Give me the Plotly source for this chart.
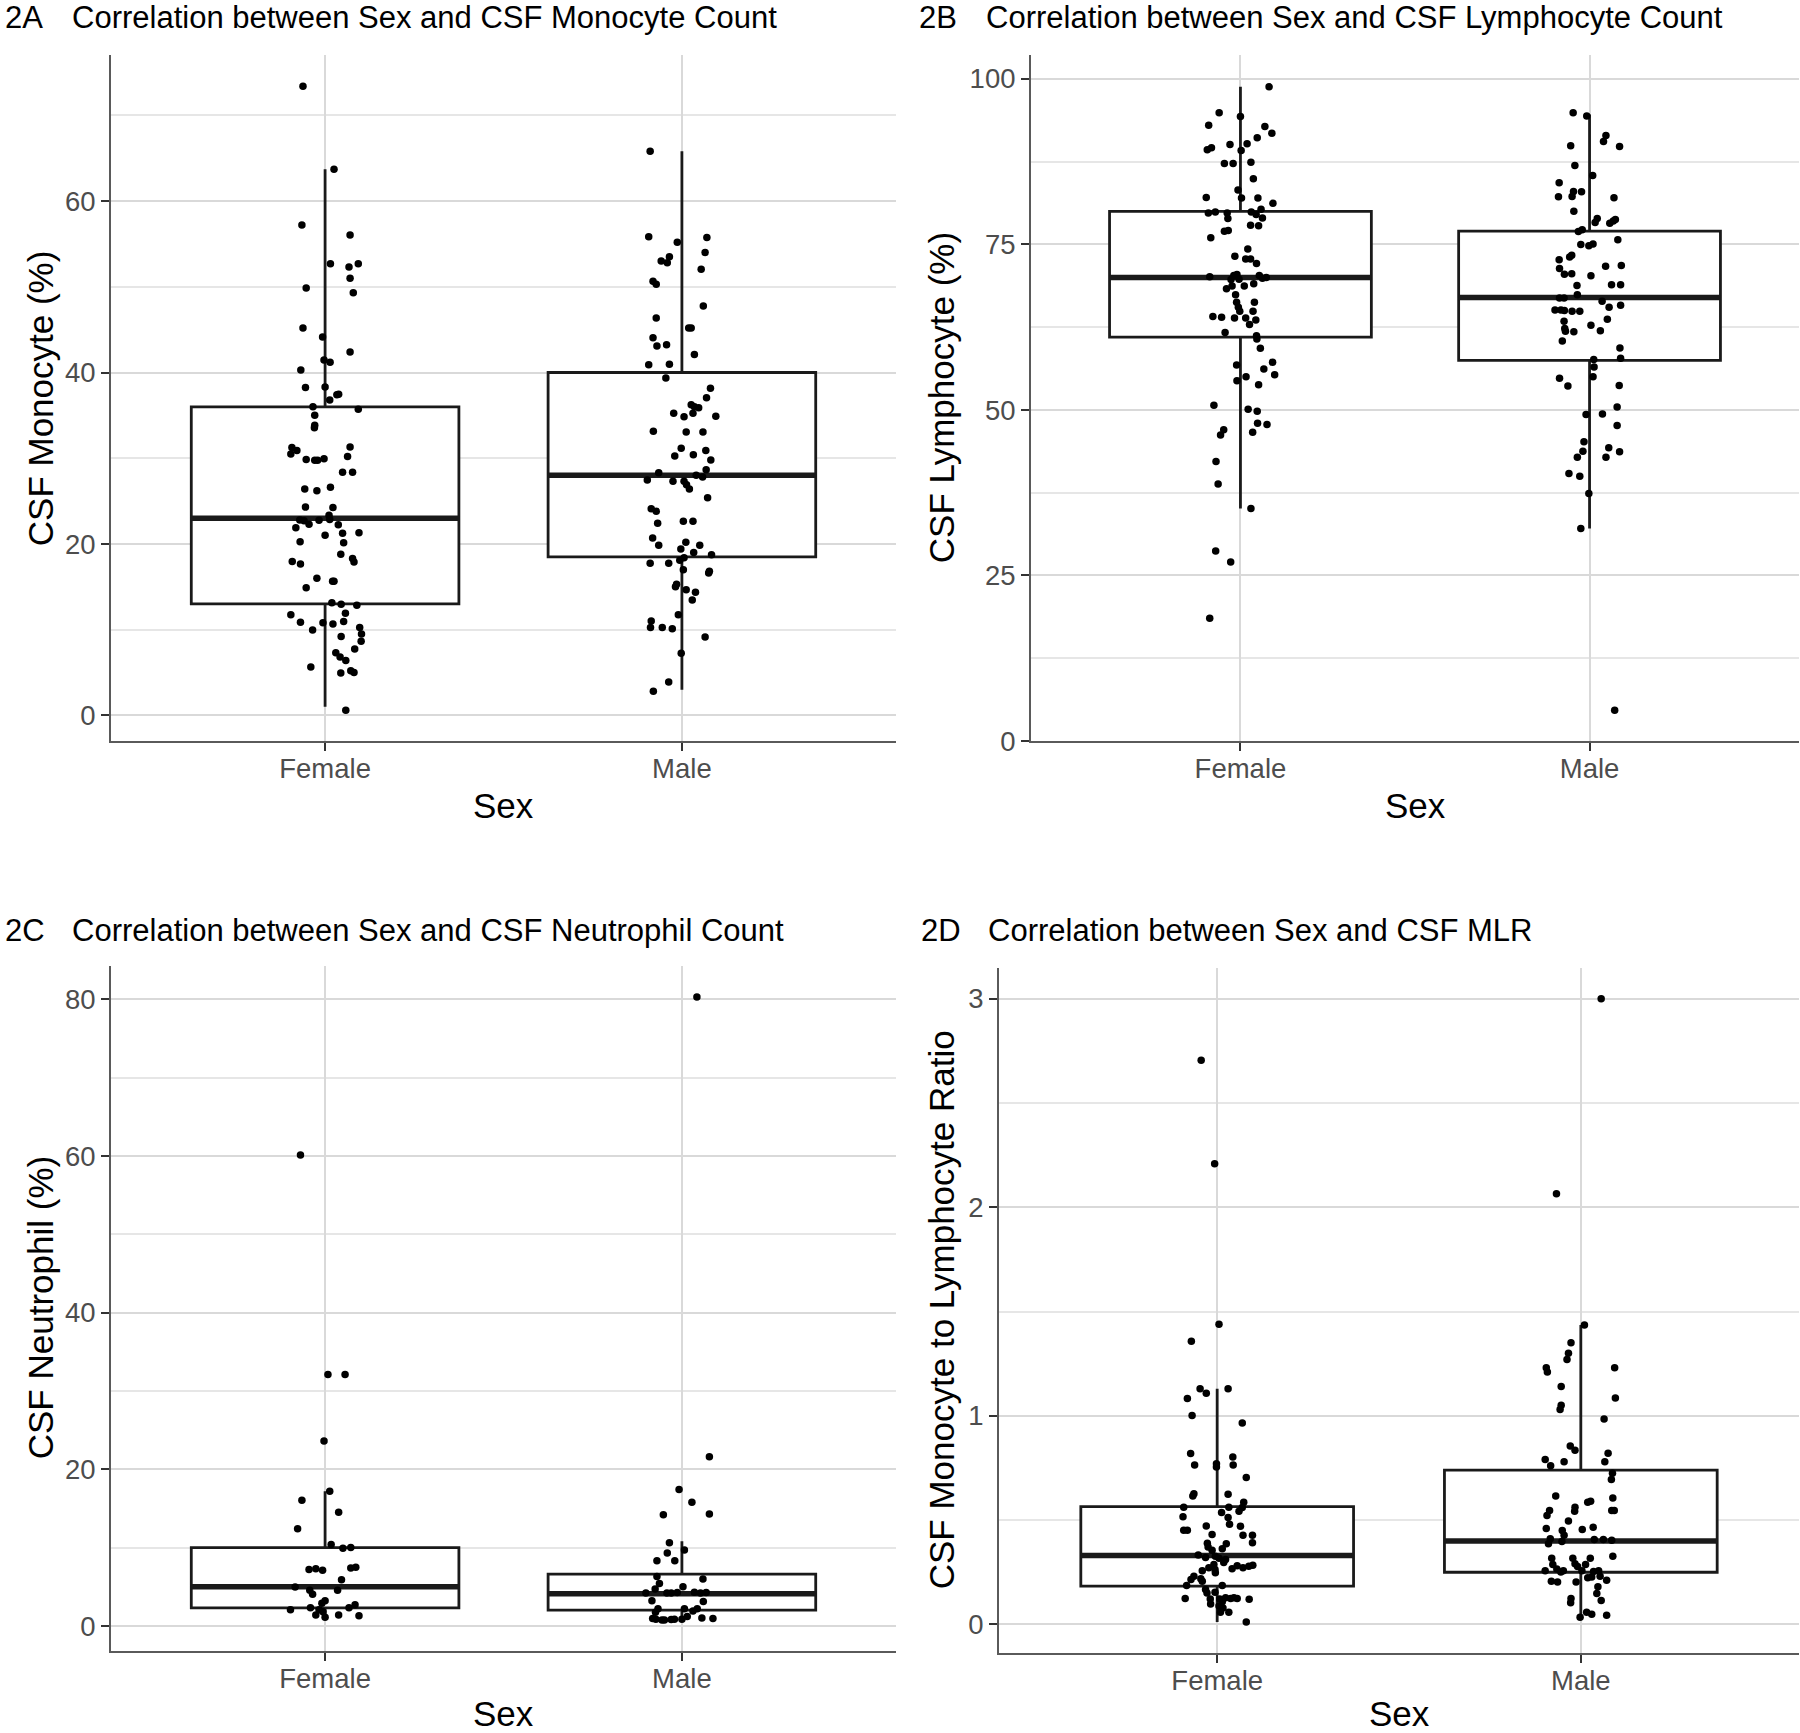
import plotly.graph_objects as go

cats = ["Female", "Male"]

# ---- 2A: CSF monocyte (%) ----
mono_f = [73.4, 63.7, 57.2, 56.05, 52.7, 52.3, 52.7, 51.0, 49.85, 49.3, 45.2, 44.15, 42.4, 41.45, 41.2,
          40.3, 38.25, 38.3, 37.45, 37.4, 36.8, 36.0, 35.7, 35.0, 33.85, 33.55, 31.25, 30.9, 30.5, 31.3,
          30.2, 29.85, 29.75, 29.75, 29.95, 28.35, 28.35, 26.6, 26.4, 26.2, 24.3, 24.25, 23.35, 22.8, 22.7,
          22.3, 22.75, 22.85, 21.9, 22.25, 21.25, 21.3, 21.0, 20.25, 20.15, 18.8, 17.95, 17.65, 18.3, 17.9,
          16.0, 14.9, 15.65, 15.65, 13.15, 12.95, 12.85, 11.9, 11.75, 10.85, 9.95, 10.8, 10.65, 10.95, 10.25,
          9.5, 9.2, 8.65, 7.3, 6.8, 7.75, 6.4, 5.65, 4.95, 5.2, 5.0, 0.6]
mono_f_jit = [-0.062, 0.025, -0.065, 0.070, 0.015, 0.067, 0.093, 0.070, -0.053, 0.079, -0.062, -0.007, 0.070,
              -0.003, 0.014, -0.068, -0.055, 0.0, 0.038, 0.033, 0.013, -0.034, 0.093, -0.029, -0.029, -0.030,
              -0.093, -0.079, -0.096, 0.070, 0.063, -0.053, -0.029, -0.021, -0.003, 0.049, 0.077, 0.015, -0.057,
              -0.023, -0.055, 0.022, 0.011, -0.071, -0.059, -0.045, -0.017, 0.013, -0.082, 0.037, 0.049, 0.095,
              0.0, -0.070, 0.052, 0.044, -0.092, -0.069, 0.077, 0.081, -0.023, -0.053, 0.021, 0.025, 0.019,
              0.045, 0.089, 0.057, -0.096, -0.069, -0.035, -0.006, 0.022, 0.052, 0.097, 0.102, 0.045, 0.101,
              0.030, 0.042, 0.083, 0.058, -0.040, 0.044, 0.072, 0.081, 0.058]
mono_m = [65.8, 55.85, 55.2, 55.75, 54.0, 53.5, 53.0, 52.8, 52.05, 50.65, 50.3, 47.75, 46.35, 45.2, 45.2,
          44.05, 43.1, 43.25, 42.1, 40.9, 40.95, 39.35, 38.15, 37.05, 36.25, 36.0, 35.9, 35.25, 34.9, 35.25,
          34.85, 33.15, 33.05, 33.05, 31.15, 30.25, 30.4, 30.9, 29.8, 28.3, 28.65, 27.45, 27.3, 27.3, 26.9,
          26.4, 28.0, 27.8, 25.4, 24.1, 23.8, 22.4, 22.65, 22.65, 20.7, 19.85, 20.2, 19.4, 19.85, 19.0,
          18.75, 17.75, 17.75, 18.1, 18.4, 17.0, 16.8, 16.6, 15.0, 15.3, 14.65, 14.35, 13.45, 11.75, 11.0,
          10.25, 10.25, 10.1, 9.15, 7.25, 3.9, 2.8]
mono_m_jit = [-0.089, -0.093, -0.013, 0.070, 0.065, -0.035, -0.058, -0.041, 0.054, -0.081, -0.072, 0.060, -0.072,
              0.019, 0.026, -0.081, -0.070, -0.043, 0.035, -0.093, -0.035, -0.045, 0.080, 0.069, 0.026, 0.035,
              0.047, 0.031, 0.095, -0.023, 0.006, -0.080, 0.012, 0.059, -0.002, -0.020, 0.032, 0.067, 0.081,
              -0.065, 0.068, -0.097, -0.025, 0.006, 0.013, 0.021, 0.040, 0.058, 0.072, -0.086, -0.072, -0.068,
              0.004, 0.031, -0.082, -0.065, 0.011, -0.003, 0.050, 0.033, 0.083, -0.089, -0.037, -0.006, 0.006,
              0.004, 0.077, 0.075, -0.018, -0.015, 0.012, 0.038, 0.029, -0.010, -0.086, -0.088, -0.055, -0.027,
              0.065, -0.002, -0.037, -0.080]
mono_q1 = [13.0, 18.5]
mono_med = [23.0, 28.0]
mono_q3 = [36.0, 40.0]
mono_lo = [1.0, 3.0]
mono_hi = [63.7, 65.8]

# ---- 2B: CSF lymphocyte (%) ----
lymph_f = [98.8, 94.9, 94.3, 93.0, 92.8, 91.8, 91.1, 89.6, 89.3, 90.1, 90.2, 89.2, 87.2, 87.2, 87.4, 84.9,
           83.2, 82.1, 82.0, 82.0, 81.2, 79.75, 79.9, 79.75, 78.9, 79.9, 79.5, 80.3, 79.0, 77.1, 77.0, 77.9,
           77.8, 76.0, 74.3, 73.2, 72.8, 72.8, 72.1, 70.1, 69.7, 70.3, 70.45, 69.75, 70.3, 69.9, 70.0, 68.7,
           69.05, 68.3, 68.7, 67.4, 66.25, 66.25, 65.5, 64.9, 64.9, 64.1, 64.0, 63.9, 63.9, 63.6, 62.9, 61.7,
           61.2, 60.7, 59.3, 56.8, 57.2, 56.2, 55.3, 55.0, 54.4, 53.8, 50.7, 50.1, 49.8, 48.0, 47.8, 46.65,
           47.0, 46.2, 42.2, 38.8, 35.1, 28.7, 27.05, 18.55]
lymph_f_jit = [0.082, -0.061, 0.0, -0.091, 0.070, 0.090, 0.048, -0.083, -0.095, -0.030, 0.019, 0.002, -0.046,
               -0.021, 0.030, 0.037, -0.007, -0.098, 0.003, 0.050, 0.093, -0.092, -0.072, -0.038, -0.036, 0.031,
               0.045, 0.059, 0.063, -0.035, -0.046, 0.029, 0.052, -0.085, 0.021, -0.016, 0.015, 0.029, 0.046,
               -0.088, -0.027, -0.019, -0.010, -0.004, 0.054, 0.063, 0.074, 0.011, 0.038, -0.040, -0.024, -0.014,
               -0.011, 0.040, -0.006, -0.002, 0.036, -0.079, -0.054, -0.017, 0.015, 0.044, 0.026, -0.044, 0.046,
               0.047, 0.057, -0.011, 0.092, 0.067, 0.098, 0.016, -0.010, 0.052, -0.076, 0.022, 0.048, 0.049,
               0.076, 0.035, -0.048, -0.057, -0.070, -0.064, 0.030, -0.071, -0.028, -0.088]
lymph_m = [94.9, 94.4, 91.45, 90.55, 89.9, 89.8, 86.9, 85.4, 84.3, 82.2, 82.25, 83.0, 82.95, 82.05, 80.0,
           78.9, 78.3, 78.2, 78.55, 78.75, 76.95, 77.2, 75.7, 75.0, 74.8, 75.05, 73.1, 73.35, 72.7, 71.35,
           70.5, 70.55, 70.25, 71.7, 71.8, 68.8, 68.9, 68.9, 67.4, 66.9, 66.9, 65.1, 65.1, 65.0, 64.9, 64.9,
           66.4, 65.5, 65.8, 63.4, 62.3, 61.9, 61.8, 62.8, 61.95, 63.7, 60.4, 59.35, 57.8, 57.6, 56.5, 55.0,
           54.8, 53.6, 53.7, 49.3, 49.4, 50.45, 47.65, 45.2, 43.75, 42.85, 44.3, 42.85, 43.7, 40.4, 40.0,
           37.4, 32.1, 4.65]
lymph_m_jit = [-0.047, -0.008, 0.047, 0.040, -0.054, 0.086, -0.042, 0.009, -0.087, -0.089, -0.050, -0.046,
               -0.023, 0.070, -0.045, 0.022, 0.016, 0.058, 0.068, 0.074, -0.032, -0.021, 0.081, -0.025, -0.002,
               0.010, -0.057, -0.051, -0.087, -0.086, -0.072, -0.051, 0.004, 0.046, 0.091, -0.036, 0.063, 0.089,
               -0.035, -0.086, -0.073, -0.099, -0.082, -0.072, -0.050, -0.028, 0.036, 0.056, 0.089, -0.073,
               -0.071, -0.069, -0.045, 0.004, 0.031, 0.051, -0.078, 0.087, 0.089, 0.012, 0.013, 0.010, -0.086,
               -0.062, 0.085, -0.010, 0.037, 0.079, 0.079, -0.016, -0.019, -0.035, 0.055, 0.047, 0.086, -0.059,
               -0.028, -0.002, -0.025, 0.072]
lymph_q1 = [61.0, 57.5]
lymph_med = [70.0, 67.0]
lymph_q3 = [80.0, 77.0]
lymph_lo = [35.1, 32.1]
lymph_hi = [98.8, 94.6]

# ---- 2C: CSF neutrophil (%) ----
neut_f = [60.1, 32.1, 32.1, 23.6, 17.2, 16.05, 14.5, 12.4, 10.4, 9.9, 10.0, 7.2, 7.3, 7.1, 7.4, 7.5, 5.9,
          4.95, 4.55, 4.05, 4.55, 2.05, 2.3, 2.9, 3.2, 2.05, 1.8, 1.4, 1.1, 1.4, 2.3, 2.7, 1.3]
neut_f_jit = [-0.069, 0.008, 0.056, -0.003, 0.013, -0.065, 0.038, -0.077, 0.017, 0.050, 0.072, -0.045, -0.026,
              -0.007, 0.072, 0.086, 0.046, -0.084, -0.043, -0.035, 0.035, -0.097, -0.041, -0.009, 0.0, -0.017,
              -0.006, -0.026, 0.0, 0.038, 0.067, 0.084, 0.095]
neut_m = [80.3, 21.6, 17.4, 15.8, 14.2, 14.3, 10.6, 9.3, 9.7, 8.3, 8.3, 6.0, 6.3, 5.4, 4.2, 4.7, 4.2, 4.2,
          4.25, 5.0, 4.3, 4.2, 4.25, 3.2, 3.1, 1.75, 2.2, 2.2, 1.9, 2.2, 0.95, 0.85, 0.75, 0.8, 0.85, 0.85,
          1.2, 1.0, 0.95, 0.75]
neut_m_jit = [0.042, 0.077, -0.008, 0.028, -0.052, 0.077, -0.035, -0.041, 0.007, -0.070, -0.020, 0.059, -0.070,
              -0.063, -0.101, -0.075, -0.042, -0.030, -0.013, 0.003, 0.035, 0.052, 0.068, -0.084, 0.060, -0.074,
              -0.067, 0.007, 0.031, 0.043, -0.082, -0.073, -0.049, -0.030, -0.021, 0.0, 0.015, 0.056, 0.087,
              -0.056]
neut_q1 = [2.3, 2.0]
neut_med = [5.0, 4.1]
neut_q3 = [10.0, 6.6]
neut_lo = [1.1, 0.75]
neut_hi = [17.2, 10.8]

# ---- 2D: CSF monocyte to lymphocyte ratio ----
mlr_f = [2.705, 2.209, 1.439, 1.358, 1.130, 1.108, 1.130, 1.083, 1.001, 0.965, 0.819, 0.764, 0.770, 0.754,
         0.803, 0.764, 0.704, 0.626, 0.616, 0.624, 0.562, 0.516, 0.451, 0.451, 0.472, 0.536, 0.562, 0.512,
         0.542, 0.560, 0.586, 0.480, 0.431, 0.470, 0.427, 0.427, 0.391, 0.389, 0.371, 0.363, 0.387, 0.355,
         0.327, 0.321, 0.333, 0.311, 0.317, 0.287, 0.297, 0.267, 0.281, 0.271, 0.279, 0.283, 0.263, 0.247,
         0.231, 0.215, 0.187, 0.219, 0.207, 0.187, 0.167, 0.150, 0.124, 0.122, 0.154, 0.122, 0.108, 0.128,
         0.124, 0.128, 0.124, 0.120, 0.098, 0.088, 0.078, 0.058, 0.058, 0.012, 0.257, 0.271]
mlr_f_jit = [-0.044, -0.007, 0.005, -0.071, -0.047, -0.030, 0.030, -0.082, -0.069, 0.069, -0.073, -0.062, -0.002,
             -0.002, 0.043, 0.044, 0.080, -0.064, -0.067, 0.030, -0.092, -0.094, -0.092, -0.082, -0.030, 0.012,
             0.032, 0.030, 0.060, 0.069, 0.073, 0.034, -0.014, 0.064, 0.071, 0.097, 0.097, -0.027, -0.025, 0.014,
             0.025, -0.014, -0.005, -0.032, -0.052, 0.023, 0.005, -0.009, 0.018, 0.041, 0.055, 0.071, 0.087,
             0.098, -0.006, -0.005, -0.064, -0.072, -0.084, -0.045, -0.041, 0.014, -0.032, -0.028, -0.088,
             -0.019, -0.006, 0.007, 0.014, 0.023, 0.037, 0.046, 0.055, 0.088, -0.018, 0.005, 0.016, 0.032,
             0.009, 0.080, -0.041, -0.023]
mlr_m = [3.0, 2.065, 1.435, 1.35, 1.30, 1.27, 1.23, 1.21, 1.23, 1.14, 1.05, 1.03, 1.085, 0.985, 0.855, 0.835,
         0.79, 0.76, 0.78, 0.82, 0.78, 0.725, 0.695, 0.616, 0.586, 0.59, 0.606, 0.562, 0.542, 0.546, 0.546,
         0.546, 0.522, 0.496, 0.46, 0.45, 0.455, 0.466, 0.427, 0.407, 0.407, 0.403, 0.411, 0.387, 0.397,
         0.327, 0.317, 0.287, 0.317, 0.291, 0.287, 0.317, 0.257, 0.251, 0.257, 0.265, 0.277, 0.223, 0.227,
         0.253, 0.257, 0.231, 0.211, 0.181, 0.148, 0.207, 0.203, 0.124, 0.104, 0.058, 0.048, 0.114, 0.044,
         0.034, 0.257, 0.203]
mlr_m_jit = [0.056, -0.067, 0.010, -0.027, -0.034, -0.038, -0.095, -0.092, 0.093, -0.054, -0.054, -0.057, 0.095,
             0.064, -0.029, -0.016, -0.098, -0.083, -0.046, 0.075, 0.066, 0.087, 0.084, -0.069, 0.019, 0.027,
             0.088, -0.016, -0.017, 0.085, 0.092, -0.086, -0.093, -0.034, -0.095, -0.051, 0.004, 0.034, -0.046,
             0.037, 0.062, 0.085, -0.084, -0.089, -0.052, 0.088, -0.080, -0.077, -0.022, -0.016, 0.013, 0.026,
             -0.048, -0.055, -0.098, -0.066, -0.009, 0.019, 0.030, 0.035, 0.049, 0.053, 0.071, 0.047, 0.044,
             -0.081, -0.064, -0.027, -0.028, 0.016, 0.030, 0.056, 0.071, -0.002, 0.003, -0.013]
mlr_q1 = [0.183, 0.25]
mlr_med = [0.33, 0.40]
mlr_q3 = [0.565, 0.74]
mlr_lo = [0.012, 0.034]
mlr_hi = [1.13, 1.435]

panels = [
    dict(tag="2A", title="Correlation between Sex and CSF Monocyte Count", ytitle="CSF Monocyte (%)",
         pts=[(mono_f, mono_f_jit), (mono_m, mono_m_jit)],
         box=(mono_q1, mono_med, mono_q3, mono_lo, mono_hi),
         yrange=[-3.04, 77.04], dtick=20,
         px=(111, 896), py=(55, 741), tag_x=4, title_x=71, title_y=17, ytitle_x=40, xlab_y=805),
    dict(tag="2B", title="Correlation between Sex and CSF Lymphocyte Count", ytitle="CSF Lymphocyte (%)",
         pts=[(lymph_f, lymph_f_jit), (lymph_m, lymph_m_jit)],
         box=(lymph_q1, lymph_med, lymph_q3, lymph_lo, lymph_hi),
         yrange=[-0.06, 103.6], dtick=25,
         px=(1031, 1799), py=(55, 741), tag_x=918, title_x=985, title_y=17, ytitle_x=941, xlab_y=805),
    dict(tag="2C", title="Correlation between Sex and CSF Neutrophil Count", ytitle="CSF Neutrophil (%)",
         pts=[(neut_f, neut_f_jit), (neut_m, neut_m_jit)],
         box=(neut_q1, neut_med, neut_q3, neut_lo, neut_hi),
         yrange=[-3.2, 84.3], dtick=20,
         px=(111, 896), py=(965, 1650), tag_x=4, title_x=71, title_y=930, ytitle_x=40, xlab_y=1713),
    dict(tag="2D", title="Correlation between Sex and CSF MLR", ytitle="CSF Monocyte to Lymphocyte Ratio",
         pts=[(mlr_f, mlr_f_jit), (mlr_m, mlr_m_jit)],
         box=(mlr_q1, mlr_med, mlr_q3, mlr_lo, mlr_hi),
         yrange=[-0.137, 3.149], dtick=1,
         px=(999, 1799), py=(967, 1652), tag_x=920, title_x=987, title_y=930, ytitle_x=941, xlab_y=1713),
]

# target picture size; the captured page ends up ~16px taller than the window and is
# squeezed back to 1733, so the figure is drawn that much taller
W, H = 1800, 1733
FIG_H = 1749


def fx(px):
    return min(max(px / W, 0.0), 1.0)


def fy(py):
    return min(max(1 - py / H, 0.0), 1.0)


FONT = "Liberation Sans, Arial, sans-serif"
INK = "#1a1a1a"
GRID = "#d9d9d9"
MINOR = "#e6e6e6"
AXIS = "#5a5a5a"
TICK = "#333333"

fig = go.Figure()
annotations = []
layout = {}

for i, p in enumerate(panels, start=1):
    sfx = "" if i == 1 else str(i)
    xa, ya = "x" + sfx, "y" + sfx
    q1, med, q3, lo, hi = p["box"]
    for j in range(2):
        fig.add_trace(go.Box(x=[j + 1], q1=[q1[j]], median=[med[j]], q3=[q3[j]],
                             lowerfence=[lo[j]], upperfence=[hi[j]], width=0.75,
                             fillcolor="white", line=dict(color=INK, width=2.8),
                             whiskerwidth=0, boxpoints=False, showlegend=False,
                             hoverinfo="skip", xaxis=xa, yaxis=ya))
        fig.add_trace(go.Scatter(x=[j + 1 - 0.375, j + 1 + 0.375], y=[med[j], med[j]], mode="lines",
                                 line=dict(color=INK, width=5.5), showlegend=False,
                                 hoverinfo="skip", xaxis=xa, yaxis=ya))
    for j, (vals, jit) in enumerate(p["pts"]):
        fig.add_trace(go.Scatter(x=[j + 1 + o for o in jit], y=vals, mode="markers",
                                 marker=dict(size=7.5, color="black", line=dict(width=0)),
                                 showlegend=False, hoverinfo="y", xaxis=xa, yaxis=ya))

    x0, x1 = p["px"]
    y0, y1 = p["py"]
    layout["xaxis" + sfx] = dict(
        domain=[fx(x0), fx(x1)], anchor=ya, range=[0.4, 2.6],
        tickvals=[1, 2], ticktext=cats, showgrid=True, gridcolor=GRID, gridwidth=2,
        showline=True, linecolor=AXIS, linewidth=2, ticks="outside", ticklen=8,
        tickcolor=TICK, tickwidth=2, ticklabelstandoff=-6,
        tickfont=dict(size=27.5, color="#4d4d4d", family=FONT),
        zeroline=False, fixedrange=True)
    layout["yaxis" + sfx] = dict(
        domain=[fy(y1), fy(y0)], anchor=xa, range=p["yrange"],
        tick0=0, dtick=p["dtick"], showgrid=True, gridcolor=GRID, gridwidth=2,
        minor=dict(dtick=p["dtick"] / 2, showgrid=True, gridcolor=MINOR, gridwidth=1.5),
        showline=True, linecolor=AXIS, linewidth=2, ticks="outside", ticklen=8,
        tickcolor=TICK, tickwidth=2, ticklabelstandoff=0,
        tickfont=dict(size=27.5, color="#4d4d4d", family=FONT),
        zeroline=False, fixedrange=True)

    ty = fy(p["title_y"])
    annotations += [
        dict(text=p["tag"], x=fx(p["tag_x"]), y=ty, xref="paper", yref="paper",
             xanchor="left", yanchor="middle", showarrow=False, borderpad=0,
             font=dict(size=31, color="black", family=FONT)),
        dict(text=p["title"], x=fx(p["title_x"]), y=ty, xref="paper", yref="paper",
             xanchor="left", yanchor="middle", showarrow=False, borderpad=0,
             font=dict(size=31, color="black", family=FONT)),
        dict(text=p["ytitle"], x=fx(p["ytitle_x"]), y=fy((y0 + y1) / 2), xref="paper", yref="paper",
             xanchor="center", yanchor="middle", textangle=-90, showarrow=False,
             font=dict(size=35, color="black", family=FONT)),
        dict(text="Sex", x=fx((x0 + x1) / 2), y=fy(p["xlab_y"]), xref="paper", yref="paper",
             xanchor="center", yanchor="middle", showarrow=False,
             font=dict(size=35, color="black", family=FONT)),
    ]

fig.update_layout(
    width=W, height=FIG_H, margin=dict(l=0, r=0, t=0, b=0),
    paper_bgcolor="white", plot_bgcolor="white",
    font=dict(family=FONT), annotations=annotations, **layout)

# drop the default 8px page margin so the figure fills the window exactly
fig.write_html("out.html", config={"displayModeBar": False},
               post_script="document.body.style.margin = '0px';")
